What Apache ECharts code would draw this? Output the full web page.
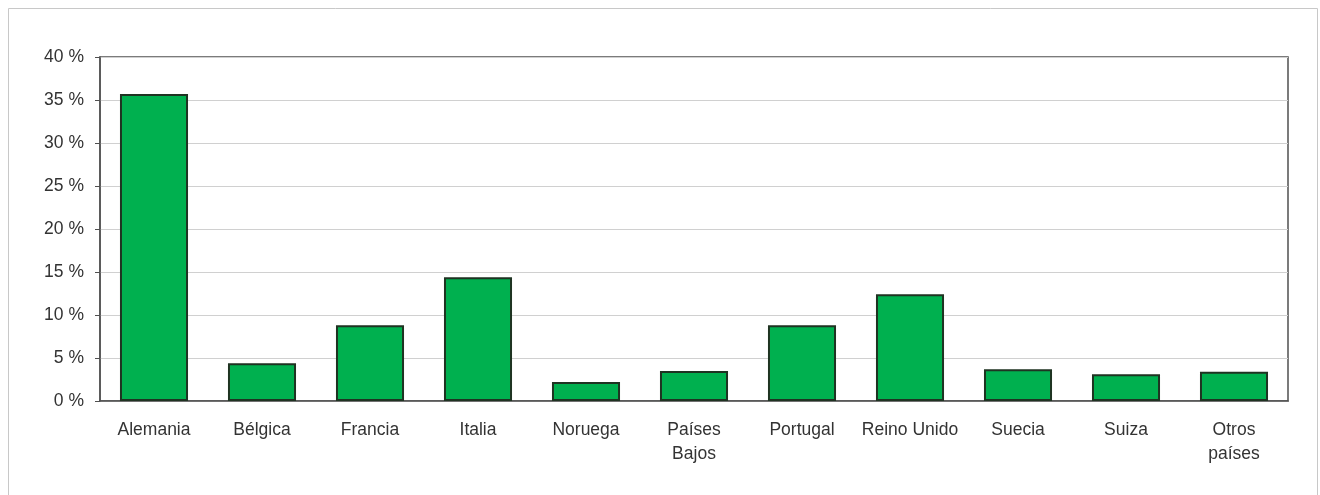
<!DOCTYPE html>
<html>
<head>
<meta charset="utf-8">
<script src="https://cdn.jsdelivr.net/npm/echarts@6/dist/echarts.min.js"></script>
<style>
html,body{margin:0;padding:0;background:#fff;}
#chart{width:1320px;height:495px;}
</style>
</head>
<body>
<div id="chart"></div>
<script>
const categories = ['Alemania','Bélgica','Francia','Italia','Noruega','Países\nBajos','Portugal','Reino Unido','Suecia','Suiza','Otros\npaíses'];
const shares = [35.7, 4.4, 8.8, 14.4, 2.2, 3.5, 8.8, 12.4, 3.7, 3.1, 3.4];
const yTicks = [0, 5, 10, 15, 20, 25, 30, 35, 40];

const chart = echarts.init(document.getElementById('chart'));
chart.setOption({
  animation: false,
  backgroundColor: '#ffffff',
  graphic: [{
    type: 'rect',
    shape: { x: 8.5, y: 8.5, width: 1309, height: 500 },
    style: { fill: 'none', stroke: '#c8c8c8', lineWidth: 1 },
    silent: true
  }],
  grid: {
    left: 100, top: 57, right: 32, bottom: 94,
    show: true, borderColor: '#505050', borderWidth: 1.5, backgroundColor: '#fff'
  },
  xAxis: {
    type: 'category',
    data: categories,
    axisLine: { show: true, lineStyle: { color: '#505050', width: 1.5 } },
    axisTick: { show: false },
    axisLabel: {
      interval: 0, margin: 17,
      fontFamily: 'Liberation Sans, Arial, sans-serif',
      fontSize: 17.5, color: '#333', lineHeight: 24
    }
  },
  yAxis: {
    type: 'value',
    min: yTicks[0], max: yTicks[yTicks.length - 1], interval: 5,
    axisLine: { show: true, lineStyle: { color: '#505050', width: 1.5 } },
    axisTick: { show: true, length: 5, lineStyle: { color: '#505050' } },
    splitLine: { show: true, lineStyle: { color: '#d0d0d0', width: 1 } },
    axisLabel: {
      margin: 16, formatter: '{value} %',
      fontFamily: 'Liberation Sans, Arial, sans-serif',
      fontSize: 17.5, color: '#333'
    }
  },
  series: [{
    type: 'bar',
    data: shares,
    barCategoryGap: '37%',
    itemStyle: { color: '#00b04f', borderColor: '#1f3322', borderWidth: 2 }
  }]
});
</script>
</body>
</html>
